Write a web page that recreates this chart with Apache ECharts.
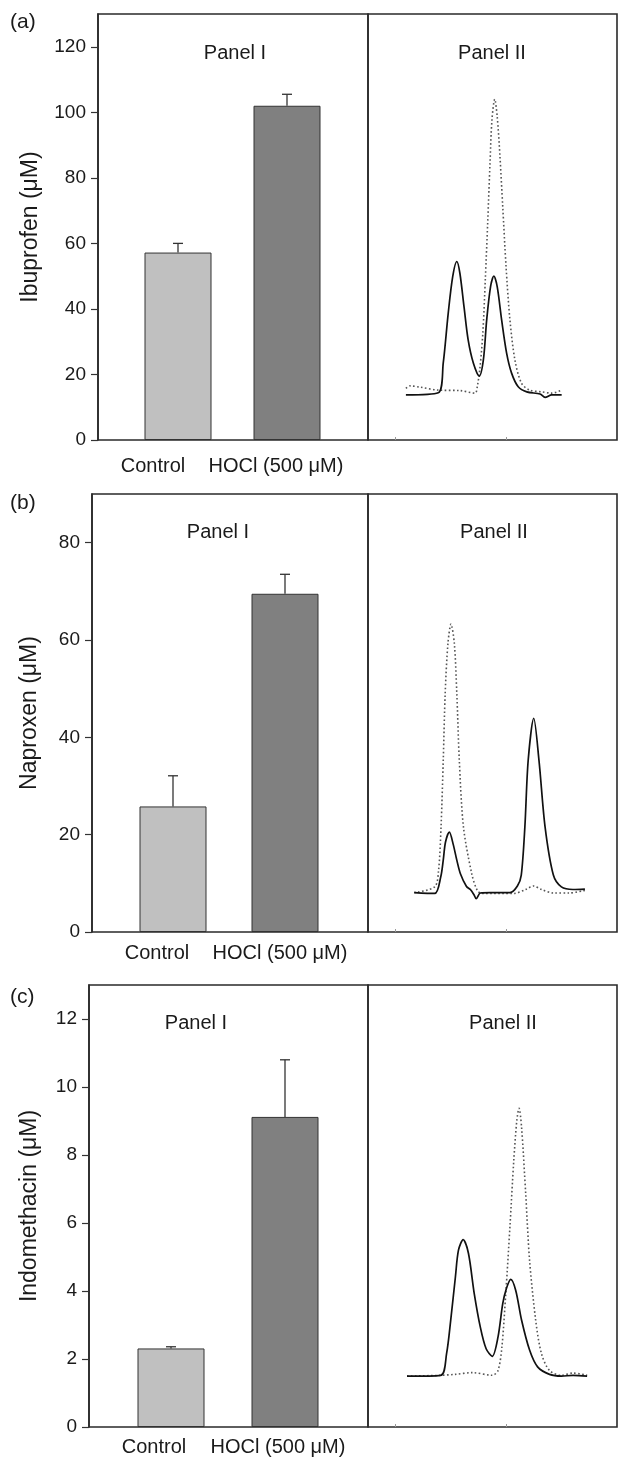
<!DOCTYPE html>
<html>
<head>
<meta charset="utf-8">
<title>Ibuprofen, naproxen and indomethacin with HOCl</title>
<script src="https://cdn.jsdelivr.net/npm/echarts@6/dist/echarts.min.js"></script>
<style>
  html, body { margin: 0; padding: 0; background: #fff; }
  #chart { width: 620px; height: 1459px; }
</style>
</head>
<body>
<div id="chart"></div>
<script>
// Panel I: bar values (μM) and error bars
const categories = ['Control', 'HOCl (500 μM)']

const ibuprofen = [57.2, 102.0]
const ibuprofenErr = [2.8, 3.5]
const naproxen = [25.8, 69.5]
const naproxenErr = [6.3, 4.0]
const indomethacin = [2.31, 9.12]
const indomethacinErr = [0.05, 1.68]

const ibuprofenTicks = [0, 20, 40, 60, 80, 100, 120]
const naproxenTicks = [0, 20, 40, 60, 80]
const indomethacinTicks = [0, 2, 4, 6, 8, 10, 12]

// Panel II: chromatograms [retention, signal]
const chromTicks = [1, 5]

const ibuSolid = [[1.37, 10.6], [2.54, 11.1], [2.72, 18.1], [2.90, 29.8], [3.06, 38.3], [3.21, 41.9], [3.32, 39.2],
  [3.47, 31.3], [3.62, 23.5], [3.81, 18.0], [4.02, 15.0], [4.17, 18.8], [4.29, 28.2], [4.43, 36.0], [4.55, 38.5],
  [4.67, 36.0], [4.83, 28.2], [5.01, 20.4], [5.19, 15.7], [5.43, 12.5], [5.74, 11.3], [6.22, 10.8], [6.40, 10.0],
  [6.64, 10.6], [7.00, 10.6]]
const ibuDotted = [[1.37, 12.1], [1.52, 12.7], [1.88, 12.4], [2.54, 11.7], [3.32, 11.6], [3.87, 11.0], [3.95, 12.5],
  [4.05, 17.2], [4.15, 25.0], [4.24, 37.6], [4.33, 51.6], [4.41, 65.0], [4.48, 75.1], [4.58, 80.0], [4.67, 75.9],
  [4.77, 66.5], [4.87, 54.8], [4.99, 40.7], [5.13, 28.2], [5.31, 18.8], [5.55, 13.3], [5.85, 11.7], [6.28, 11.3],
  [6.64, 11.0], [7.00, 11.7]]

const napSolid = [[1.67, 9.0], [2.41, 8.8], [2.63, 12.6], [2.72, 16.4], [2.80, 20.5], [2.94, 22.8], [3.08, 20.0],
  [3.21, 16.4], [3.34, 13.3], [3.56, 10.4], [3.70, 9.7], [3.84, 8.4], [3.91, 7.6], [4.06, 8.9], [4.41, 9.0],
  [5.13, 9.0], [5.40, 10.5], [5.54, 13.0], [5.67, 24.0], [5.79, 39.2], [5.99, 48.8], [6.18, 39.2], [6.40, 24.0],
  [6.70, 13.0], [6.99, 10.3], [7.41, 9.7], [7.84, 9.8]]
const napDotted = [[1.67, 9.0], [2.41, 10.3], [2.55, 14.0], [2.64, 24.0], [2.72, 39.2], [2.79, 54.5], [2.89, 65.9],
  [3.00, 70.3], [3.12, 65.9], [3.21, 54.5], [3.30, 39.2], [3.45, 24.0], [3.75, 13.3], [3.95, 9.5], [4.13, 8.8],
  [5.27, 8.8], [5.70, 9.7], [5.98, 10.5], [6.27, 9.7], [6.70, 8.9], [7.27, 8.9], [7.84, 9.5]]

const indSolid = [[1.41, 11.5], [2.63, 11.7], [2.84, 16.6], [2.99, 24.2], [3.16, 34.0], [3.27, 40.0], [3.44, 42.4],
  [3.63, 39.3], [3.84, 30.2], [4.06, 22.6], [4.27, 17.7], [4.49, 16.0], [4.70, 20.4], [4.87, 27.9], [5.00, 31.3],
  [5.16, 33.4], [5.34, 30.9], [5.55, 24.2], [5.84, 17.4], [6.13, 13.6], [6.56, 11.9], [6.99, 11.5], [7.41, 11.7],
  [7.92, 11.5]]
const indDotted = [[1.41, 11.5], [2.63, 11.7], [3.13, 11.9], [3.77, 12.3], [4.49, 11.7], [4.70, 12.8], [4.84, 18.1],
  [4.98, 30.2], [5.13, 45.3], [5.27, 60.4], [5.38, 69.4], [5.46, 72.1], [5.55, 67.9], [5.70, 52.8], [5.84, 37.7],
  [6.06, 24.2], [6.27, 16.6], [6.56, 12.8], [6.99, 11.7], [7.41, 12.2], [7.92, 11.7]]

// layout of the three stacked figures (pixels)
const panels = [
  { letter: '(a)', name: 'Ibuprofen (μM)', values: ibuprofen, errors: ibuprofenErr, ticks: ibuprofenTicks, yMax: 130,
    solid: ibuSolid, dotted: ibuDotted,
    axisX: 98, mid: 368, right: 617, top: 14, bottom: 440, barCenters: [178, 287],
    nameGap: 56, labelMargin: 16, labelShift: [25, 11], letterY: 22, titleY: 53, titleIX: 235, titleIIX: 492 },
  { letter: '(b)', name: 'Naproxen (μM)', values: naproxen, errors: naproxenErr, ticks: naproxenTicks, yMax: 90,
    solid: napSolid, dotted: napDotted,
    axisX: 92, mid: 368, right: 617, top: 494, bottom: 932, barCenters: [173, 285],
    nameGap: 51, labelMargin: 11, labelShift: [16, 5], letterY: 503, titleY: 532, titleIX: 218, titleIIX: 494 },
  { letter: '(c)', name: 'Indomethacin (μM)', values: indomethacin, errors: indomethacinErr, ticks: indomethacinTicks, yMax: 13,
    solid: indSolid, dotted: indDotted,
    axisX: 89, mid: 368, right: 617, top: 985, bottom: 1427, barCenters: [171, 285],
    nameGap: 48, labelMargin: 10, labelShift: [17, 7], letterY: 997, titleY: 1023, titleIX: 196, titleIIX: 503 }
]

const font = '"Liberation Sans", Arial, Helvetica, sans-serif'
const ink = '#1a1a1a'
const barColors = ['#c0c0c0', '#808080']

const chart = echarts.init(document.getElementById('chart'))

const grid = []
const xAxis = []
const yAxis = []
const series = []
const graphic = []

function errorBar(params, api) {
  const base = api.coord([api.value(0), api.value(1)])
  const top = api.coord([api.value(0), api.value(1) + api.value(2)])
  const style = { stroke: '#333', lineWidth: 1.3 }
  return {
    type: 'group',
    children: [
      { type: 'line', shape: { x1: base[0], y1: base[1], x2: top[0], y2: top[1] }, style: style },
      { type: 'line', shape: { x1: top[0] - 5, y1: top[1], x2: top[0] + 5, y2: top[1] }, style: style }
    ]
  }
}

panels.forEach((p, i) => {
  const h = p.bottom - p.top
  const barW = 2 * (p.barCenters[1] - p.barCenters[0])
  const barL = p.barCenters[0] - barW / 4

  // frame of panel I, frame of panel II, then the bars grid
  grid.push({ left: p.axisX, top: p.top, width: p.mid - p.axisX, height: h, show: true, borderColor: '#2a2a2a', borderWidth: 1.6 })
  grid.push({ left: p.mid, top: p.top, width: p.right - p.mid, height: h, show: true, borderColor: '#2a2a2a', borderWidth: 1.6 })
  grid.push({ left: barL, top: p.top, width: barW, height: h })

  xAxis.push({
    gridIndex: 3 * i + 1, type: 'value', min: 0, max: 9,
    axisLine: { show: false },
    axisTick: { show: true, inside: true, length: 3, customValues: chromTicks, lineStyle: { color: '#999' } },
    axisLabel: { show: false },
    splitLine: { show: false }
  })
  yAxis.push({ gridIndex: 3 * i + 1, type: 'value', min: 0, max: 100, show: false })

  const rich = {}
  p.labelShift.forEach((s, k) => {
    rich['s' + k] = { fontSize: 20, fontFamily: font, color: ink, padding: [0, 2 * s, 0, 0] }
  })
  xAxis.push({
    gridIndex: 3 * i + 2, type: 'category', data: categories,
    axisLine: { show: false },
    axisTick: { show: false },
    axisLabel: {
      interval: 0, margin: p.labelMargin,
      formatter: (v, k) => '{s' + k + '|' + v + '}',
      rich: rich
    }
  })
  yAxis.push({
    gridIndex: 3 * i + 2, type: 'value', min: 0, max: p.yMax, offset: barL - p.axisX,
    axisLine: { show: true, lineStyle: { color: '#2a2a2a', width: 1.6 } },
    axisTick: { show: true, length: 7, customValues: p.ticks, lineStyle: { color: '#333', width: 1.2 } },
    axisLabel: { customValues: p.ticks, fontSize: 19, fontFamily: font, color: ink, margin: 12 },
    splitLine: { show: false },
    name: p.name, nameLocation: 'middle', nameGap: p.nameGap,
    nameTextStyle: { fontSize: 23, fontFamily: font, color: ink }
  })

  series.push({
    type: 'bar', xAxisIndex: 2 * i + 1, yAxisIndex: 2 * i + 1, barWidth: 67, silent: true,
    data: p.values.map((v, k) => ({ value: v, itemStyle: { color: barColors[k] } })),
    itemStyle: { borderColor: '#333', borderWidth: 1 }
  })
  series.push({
    type: 'custom', xAxisIndex: 2 * i + 1, yAxisIndex: 2 * i + 1, z: 3, silent: true,
    data: p.values.map((v, k) => [k, v, p.errors[k]]),
    renderItem: errorBar
  })
  series.push({
    type: 'line', xAxisIndex: 2 * i, yAxisIndex: 2 * i, data: p.dotted, showSymbol: false, smooth: 0.3, silent: true,
    lineStyle: { color: '#555', width: 1.6, type: [1.6, 2.4] }
  })
  series.push({
    type: 'line', xAxisIndex: 2 * i, yAxisIndex: 2 * i, data: p.solid, showSymbol: false, smooth: 0.3, silent: true,
    lineStyle: { color: '#111', width: 1.7 }
  })

  graphic.push({ type: 'text', x: 10, y: p.letterY, style: { text: p.letter, fontSize: 21, fontFamily: font, fill: ink, verticalAlign: 'middle' } })
  graphic.push({ type: 'text', x: p.titleIX, y: p.titleY, style: { text: 'Panel I', fontSize: 20, fontFamily: font, fill: ink, align: 'center', verticalAlign: 'middle' } })
  graphic.push({ type: 'text', x: p.titleIIX, y: p.titleY, style: { text: 'Panel II', fontSize: 20, fontFamily: font, fill: ink, align: 'center', verticalAlign: 'middle' } })
})

chart.setOption({
  animation: false,
  backgroundColor: '#fff',
  grid: grid,
  xAxis: xAxis,
  yAxis: yAxis,
  series: series,
  graphic: graphic
})
</script>
</body>
</html>
